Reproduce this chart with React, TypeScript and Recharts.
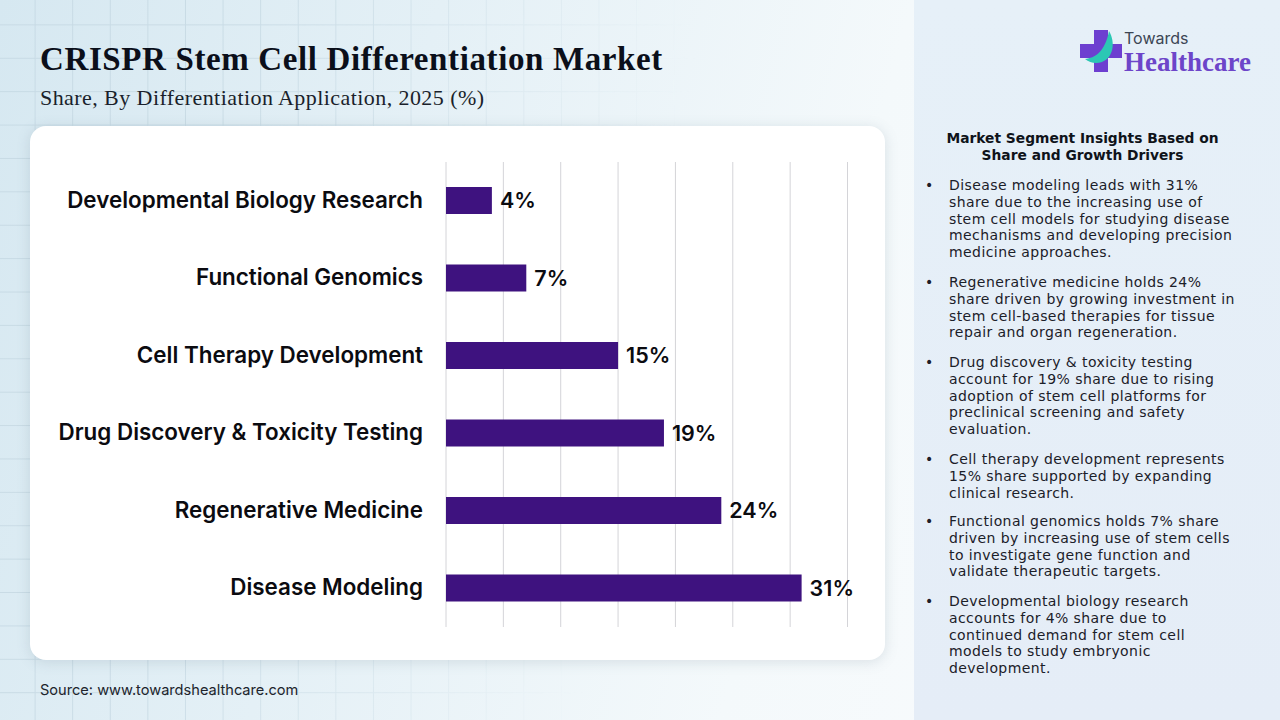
import { BarChart, Bar, XAxis, YAxis, CartesianGrid, LabelList } from 'recharts';

const categories = [
  'Developmental Biology Research',
  'Functional Genomics',
  'Cell Therapy Development',
  'Drug Discovery & Toxicity Testing',
  'Regenerative Medicine',
  'Disease Modeling',
];
const shares = [4, 7, 15, 19, 24, 31];
const xTicks = [0, 5, 10, 15, 20, 25, 30, 35];

const insights = [
  { top: 177, lines: ['Disease modeling leads with 31%', 'share due to the increasing use of', 'stem cell models for studying disease', 'mechanisms and developing precision', 'medicine approaches.'] },
  { top: 274, lines: ['Regenerative medicine holds 24%', 'share driven by growing investment in', 'stem cell-based therapies for tissue', 'repair and organ regeneration.'] },
  { top: 354, lines: ['Drug discovery & toxicity testing', 'account for 19% share due to rising', 'adoption of stem cell platforms for', 'preclinical screening and safety', 'evaluation.'] },
  { top: 451, lines: ['Cell therapy development represents', '15% share supported by expanding', 'clinical research.'] },
  { top: 513, lines: ['Functional genomics holds 7% share', 'driven by increasing use of stem cells', 'to investigate gene function and', 'validate therapeutic targets.'] },
  { top: 593, lines: ['Developmental biology research', 'accounts for 4% share due to', 'continued demand for stem cell', 'models to study embryonic', 'development.'] },
];

const chartData = categories.map((name, i) => ({ name, share: shares[i] }));

const App = () => {
  return (
    <div style={{ position: 'absolute', left: 0, top: 0, width: 1280, height: 720, overflow: 'hidden', background: 'linear-gradient(105deg, #d6e8f1 0%, #e4f0f6 30%, #f4f9fb 62%, #fbfcfe 100%)' }}>
      <div
        style={{
          position: 'absolute',
          left: 0,
          top: 0,
          width: 914,
          height: 720,
          backgroundImage:
            'linear-gradient(to right, #bfd3de 1px, transparent 1px), linear-gradient(to bottom, #bfd3de 1px, transparent 1px)',
          backgroundSize: '37.6px 33.4px',
          backgroundPosition: '-3px -9px',
          opacity: 0.65,
          WebkitMaskImage: 'linear-gradient(100deg, #000 0%, #000 25%, transparent 68%)',
          maskImage: 'linear-gradient(100deg, #000 0%, #000 25%, transparent 68%)',
        }}
      />
      <div style={{ position: 'absolute', left: 914, top: 0, width: 366, height: 720, background: 'linear-gradient(180deg, #e6f0f8 0%, #e5edf7 100%)' }} />

      <div style={{ position: 'absolute', left: 40, top: 40, fontFamily: '"Liberation Serif", serif', fontWeight: 700, fontSize: 33, letterSpacing: 0.62, lineHeight: '38px', color: '#0b0f1a', whiteSpace: 'nowrap' }}>
        CRISPR Stem Cell Differentiation Market
      </div>
      <div style={{ position: 'absolute', left: 40, top: 85, fontFamily: '"Liberation Serif", serif', fontSize: 22, letterSpacing: 0.43, lineHeight: '26px', color: '#1a1f2b', whiteSpace: 'nowrap' }}>
        Share, By Differentiation Application, 2025 (%)
      </div>

      <div style={{ position: 'absolute', left: 30, top: 126, width: 855, height: 534, background: '#fff', borderRadius: 16, boxShadow: '0 2px 14px rgba(90,110,130,0.18)' }}>
        <BarChart
          width={855}
          height={534}
          layout="vertical"
          data={chartData}
          margin={{ top: 36, right: 37.5, bottom: 33, left: 0 }}
        >
          <CartesianGrid horizontal={false} vertical stroke="#d4d4d8" strokeWidth={1} />
          <XAxis type="number" domain={[0, 35]} ticks={xTicks} hide />
          <YAxis
            type="category"
            dataKey="name"
            width={416}
            interval={0}
            axisLine={false}
            tickLine={false}
            tickSize={0}
            tickMargin={23}
            dy={-1}
            tick={{ fontFamily: 'Inter', fontWeight: 600, fontSize: 22.4, fill: '#0b0b10' }}
          />
          <Bar dataKey="share" fill="#3e127f" barSize={27} isAnimationActive={false}>
            <LabelList
              dataKey="share"
              position="right"
              offset={8}
              formatter={(v: number) => `${v}%`}
              style={{ fontFamily: 'Inter', fontWeight: 600, fontSize: 21.5, fill: '#0b0b10' }}
            />
          </Bar>
        </BarChart>
      </div>

      <div style={{ position: 'absolute', left: 40, top: 681, fontFamily: 'Inter', fontSize: 14.6, lineHeight: '18px', color: '#20242c', whiteSpace: 'nowrap' }}>
        Source: www.towardshealthcare.com
      </div>

      <svg width={46} height={46} viewBox="0 0 46 46" style={{ position: 'absolute', left: 1078, top: 28 }}>
        <path d="M16 2h14v14h14v14H30v14H16V30H2V16h14z" fill="#6d3fd0" />
        <path d="M7 31C17 30 27 24 31 3c7 12 4 27-7 31-6 2-12 1-17-3z" fill="#2cc7b4" />
      </svg>
      <div style={{ position: 'absolute', left: 1124, top: 28, fontFamily: 'Inter', fontSize: 16, lineHeight: '20px', color: '#3c4654', whiteSpace: 'nowrap' }}>Towards</div>
      <div style={{ position: 'absolute', left: 1124, top: 46, fontFamily: '"Liberation Serif", serif', fontWeight: 700, fontSize: 27, lineHeight: '32px', color: '#6d45c9', whiteSpace: 'nowrap' }}>Healthcare</div>

      <div style={{ position: 'absolute', left: 914, top: 130, width: 337, textAlign: 'center', fontFamily: '"DejaVu Sans"', fontWeight: 700, fontSize: 13.8, lineHeight: '17px', color: '#0f131a' }}>
        <div>Market Segment Insights Based on</div>
        <div>Share and Growth Drivers</div>
      </div>

      {insights.map((item) => (
        <div key={item.top} style={{ position: 'absolute', left: 0, top: item.top, fontFamily: '"DejaVu Sans"', fontSize: 14, letterSpacing: 0.42, lineHeight: '16.8px', color: '#1b2029' }}>
          <div style={{ position: 'absolute', left: 925, top: 0 }}>•</div>
          <div style={{ position: 'absolute', left: 949, top: 0, whiteSpace: 'nowrap' }}>
            {item.lines.map((line) => (
              <div key={line}>{line}</div>
            ))}
          </div>
        </div>
      ))}
    </div>
  );
};

export default App;
